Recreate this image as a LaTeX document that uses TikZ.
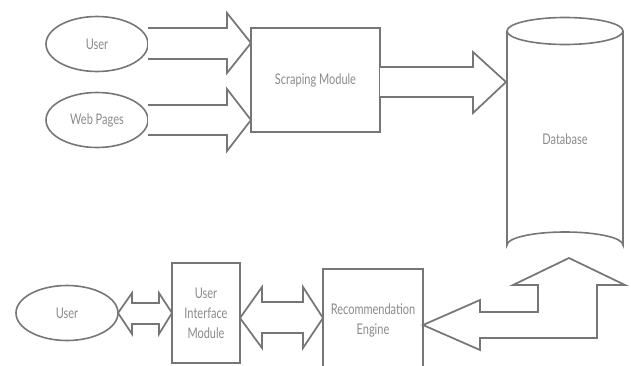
\documentclass[tikz,border=0pt]{standalone}
\usepackage{fontspec}
\setmainfont{Lato}[FakeStretch=0.75]
\usetikzlibrary{shapes.geometric}
\definecolor{linegray}{HTML}{767676}
\definecolor{textgray}{HTML}{8A8A8A}
\begin{document}
\begin{tikzpicture}[x=0.75pt,y=-0.75pt,
  every node/.style={font=\fontsize{11pt}{13pt}\selectfont, text=textgray, align=center},
  ell/.style={ellipse, draw=linegray, line width=1.2pt, minimum width=76.5pt, minimum height=41.25pt, inner sep=0pt},
  boxnode/.style={rectangle, draw=linegray, line width=1.3pt, inner sep=0pt},
  blockarrow/.style={draw=linegray, line width=1.3pt, line join=miter, fill=white},
  cyl/.style={draw=linegray, line width=1.2pt}
]
\useasboundingbox (0,0) rectangle (631,365);

% nodes
\node[ell] (user1) at (97,44) {User};
\node[ell] (web) at (97,120) {Web Pages};
\node[boxnode, minimum width=96.75pt, minimum height=78pt] (scrape) at (315.5,80) {Scraping Module};
\node[ell] (user2) at (67,313) {User};
\node[boxnode, minimum width=51pt, minimum height=75pt, align=center] (ui) at (206,313) {User\\[2pt]Interface\\[2pt]Module};
\node[boxnode, minimum width=75pt, minimum height=73.5pt] (rec) at (373,318) {};
\node at (373,320) {Recommendation\\[2pt]Engine};

% database cylinder
\draw[cyl] (507,31) -- (507,245) arc[start angle=180, end angle=360, x radius=58, y radius=13] -- (623,31);
\draw[cyl] (565,31) ellipse[x radius=58, y radius=13.5];
\node (db) at (565,139) {Database};

% block arrows
\draw[blockarrow] (148,28) -- (227,28) -- (227,13) -- (251,43) -- (227,73) -- (227,59) -- (148,59);
\draw[blockarrow] (148,105) -- (227,105) -- (227,89) -- (251,120) -- (227,151) -- (227,135) -- (148,135);
\draw[blockarrow] (380,67) -- (473,67) -- (473,52) -- (506,82) -- (473,113) -- (473,97) -- (380,97);
\draw[blockarrow] (118,313) -- (132,293) -- (132,303) -- (159,303) -- (159,293) -- (172,313) -- (159,334) -- (159,324) -- (132,324) -- (132,334) -- cycle;
\draw[blockarrow] (240,318) -- (262,287) -- (262,302) -- (303,302) -- (303,287) -- (323,318) -- (303,348) -- (303,333) -- (262,333) -- (262,348) -- cycle;
\draw[blockarrow] (569,258) -- (625,285) -- (597,285) -- (597,338) -- (480,338) -- (480,350) -- (423,325) -- (480,300) -- (480,312) -- (538,312) -- (538,285) -- (513,285) -- cycle;
\end{tikzpicture}
\end{document}
